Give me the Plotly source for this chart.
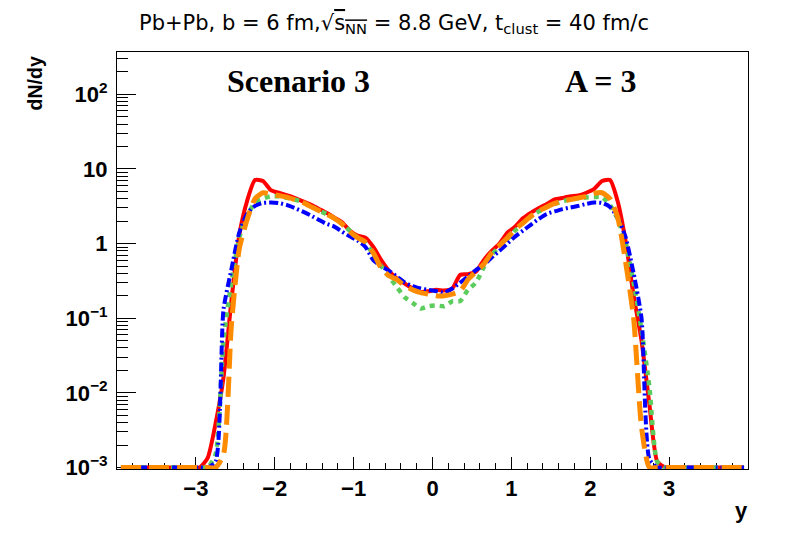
import plotly.graph_objects as go

# rapidity bin centres (outer ones are clipped to the axis minimum 1e-3)
rapidity = [-3.95, -3.05, -2.95, -2.85, -2.75, -2.65, -2.55, -2.45, -2.35, -2.25, -2.15, -2.05,
            -1.95, -1.85, -1.75, -1.65, -1.55, -1.45, -1.35, -1.25, -1.15, -1.05,
            -0.95, -0.85, -0.75, -0.65, -0.55, -0.45, -0.35, -0.25, -0.15, -0.05,
            0.05, 0.15, 0.25, 0.35, 0.45, 0.55, 0.65, 0.75, 0.85, 0.95,
            1.05, 1.15, 1.25, 1.35, 1.45, 1.55, 1.65, 1.75, 1.85, 1.95,
            2.05, 2.15, 2.25, 2.35, 2.45, 2.55, 2.65, 2.75, 2.85, 2.95, 3.05, 3.95]

red_vals = [0.001, 0.001, 0.001, 0.00135, 0.0039, 0.016, 0.17, 1.3, 3.74, 7.1, 6.9, 5.2,
            4.8, 4.45, 4.1, 3.7, 3.35, 2.95, 2.6, 2.25, 1.95, 1.5,
            1.28, 1.2, 0.9, 0.6, 0.43, 0.34, 0.29, 0.25, 0.225, 0.23,
            0.24, 0.235, 0.25, 0.38, 0.39, 0.42, 0.6, 0.8, 1.0, 1.4,
            1.7, 2.2, 2.6, 3.0, 3.4, 3.9, 4.1, 4.3, 4.4, 4.8,
            5.4, 6.9, 7.1, 3.6, 1.05, 0.2, 0.05, 0.007, 0.0012, 0.001, 0.001, 0.001]

green_vals = [0.001, 0.001, 0.001, 0.001, 0.0015, 0.05, 0.3, 1.2, 2.4, 3.5, 4.0, 4.3,
              4.3, 4.1, 3.9, 3.6, 3.2, 2.8, 2.5, 2.2, 1.85, 1.5,
              1.2, 1.0, 0.72, 0.5, 0.36, 0.26, 0.19, 0.16, 0.135, 0.145,
              0.148, 0.145, 0.168, 0.17, 0.24, 0.3, 0.48, 0.7, 0.92, 1.15,
              1.5, 1.9, 2.3, 2.7, 3.1, 3.4, 3.7, 3.9, 4.05, 4.15,
              4.2, 4.2, 3.3, 2.1, 1.0, 0.3, 0.07, 0.012, 0.0012, 0.001, 0.001, 0.001]

blue_vals = [0.001, 0.001, 0.001, 0.001, 0.0012, 0.13, 0.45, 1.4, 2.5, 3.2, 3.5, 3.55,
             3.5, 3.3, 3.0, 2.7, 2.4, 2.1, 1.85, 1.7, 1.45, 1.25,
             1.1, 0.9, 0.6, 0.5, 0.43, 0.36, 0.3, 0.27, 0.25, 0.24,
             0.23, 0.22, 0.25, 0.3, 0.36, 0.44, 0.52, 0.65, 0.8, 1.0,
             1.25, 1.5, 1.8, 2.15, 2.5, 2.7, 2.9, 3.05, 3.2, 3.4,
             3.55, 3.5, 3.1, 2.2, 1.2, 0.4, 0.1, 0.0013, 0.001, 0.001, 0.001, 0.001]

orange_vals = [0.001, 0.001, 0.001, 0.001, 0.001, 0.0015, 0.08, 0.85, 2.1, 4.0, 4.8, 4.6,
               4.4, 4.2, 3.9, 3.6, 3.15, 2.8, 2.5, 2.2, 1.85, 1.45,
               1.2, 1.05, 0.75, 0.47, 0.37, 0.33, 0.27, 0.24, 0.22, 0.21,
               0.2, 0.2, 0.21, 0.23, 0.33, 0.42, 0.53, 0.75, 0.95, 1.2,
               1.55, 1.9, 2.35, 2.75, 3.1, 3.45, 3.74, 3.9, 4.1, 4.3,
               4.7, 4.8, 4.0, 2.2, 0.55, 0.1, 0.0035, 0.001, 0.001, 0.001, 0.001, 0.001]

x_ticks = [-3, -2, -1, 0, 1, 2, 3]
x_tick_text = ["\u22123", "\u22122", "\u22121", "0", "1", "2", "3"]
y_ticks = [1e-3, 1e-2, 1e-1, 1, 10, 100]
y_tick_text = ["10<sup>\u22123</sup>", "10<sup>\u22122</sup>", "10<sup>\u22121</sup>",
               "1", "10", "10<sup>2</sup>"]

series = [
    ("red", red_vals, "#ff0000", "solid", 4),
    ("green", green_vals, "#5ccc5c", "5px,5px", 4.5),
    ("blue", blue_vals, "#0000ff", "9px,3px,2px,3px", 4),
    ("orange", orange_vals, "#ff8c00", "20px,8px", 5),
]

fig = go.Figure()
for name, vals, col, dash, w in series:
    fig.add_trace(go.Scatter(
        x=rapidity, y=vals, mode="lines", name=name,
        line=dict(color=col, dash=dash, width=w, shape="spline", smoothing=0.6),
        showlegend=False, hoverinfo="skip"))

# plot-area geometry (pixels)
W, H = 788, 534
L, R, T, B = 117.3, 748.3, 52.3, 469.3

minor_y = [m * 10 ** e for e in range(-3, 3) for m in range(2, 10)]
minor_x = [v / 10 for v in range(-40, 41, 2) if v % 10 != 0]

fig.update_layout(
    width=W, height=H,
    margin=dict(l=L, r=W - R, t=T, b=H - B, pad=0),
    paper_bgcolor="white", plot_bgcolor="white",
    font=dict(family="Liberation Sans, Arial, sans-serif", color="black"),
    xaxis=dict(
        range=[-4.0, 4.0], showgrid=False, zeroline=False, automargin=False,
        showline=True, linecolor="black", linewidth=1, mirror=True,
        ticks="inside", ticklen=12, tickwidth=1, tickcolor="black",
        tickmode="array", tickvals=x_ticks, ticktext=x_tick_text,
        tickfont=dict(size=22, family="Liberation Sans", weight="bold"),
        minor=dict(ticks="inside", ticklen=6, tickcolor="black", tickwidth=1,
                   tickmode="array", tickvals=minor_x, showgrid=False),
        layer="below traces",
    ),
    yaxis=dict(
        type="log", range=[-3.02, 2.567], showgrid=False, zeroline=False, automargin=False,
        showline=True, linecolor="black", linewidth=1, mirror=True,
        ticks="inside", ticklen=19, tickwidth=1, tickcolor="black",
        tickmode="array", tickvals=y_ticks, ticktext=y_tick_text,
        tickfont=dict(size=22, family="Liberation Sans", weight="bold"),
        ticklabelstandoff=4,
        minor=dict(ticks="inside", ticklen=11, tickcolor="black", tickwidth=1,
                   tickmode="array", tickvals=minor_y, showgrid=False),
        layer="below traces",
    ),
)

def px_x(p):
    return (p - L) / (R - L)

def px_y(p):
    return (B - p) / (B - T)

annotations = [
    dict(text="Pb+Pb, b = 6 fm,\u221a<span style='text-decoration:overline'>s<sub>NN</sub></span> = 8.8 GeV, t<sub>clust</sub> = 40 fm/c",
         x=px_x(394), y=px_y(24), xanchor="center", yanchor="middle",
         font=dict(size=21, family="DejaVu Sans")),
    dict(text="<b>Scenario 3</b>", x=px_x(298.5), y=px_y(81), xanchor="center", yanchor="middle",
         font=dict(size=32, family="Liberation Serif")),
    dict(text="<b>A = 3</b>", x=px_x(601), y=px_y(81), xanchor="center", yanchor="middle",
         font=dict(size=32, family="Liberation Serif")),
    dict(text="<b>dN/dy</b>", x=px_x(35), y=px_y(55), xanchor="center", yanchor="top",
         textangle=-90, font=dict(size=19.5, family="Liberation Sans")),
    dict(text="<b>y</b>", x=px_x(741.7), y=px_y(511), xanchor="center", yanchor="middle",
         font=dict(size=22, family="Liberation Sans")),
]
for a in annotations:
    a.update(xref="paper", yref="paper", showarrow=False)
fig.update_layout(annotations=annotations)

fig.write_html("out.html", config={"displayModeBar": False, "staticPlot": True},
               post_script="document.body.style.margin='0';document.body.style.overflow='hidden';")
